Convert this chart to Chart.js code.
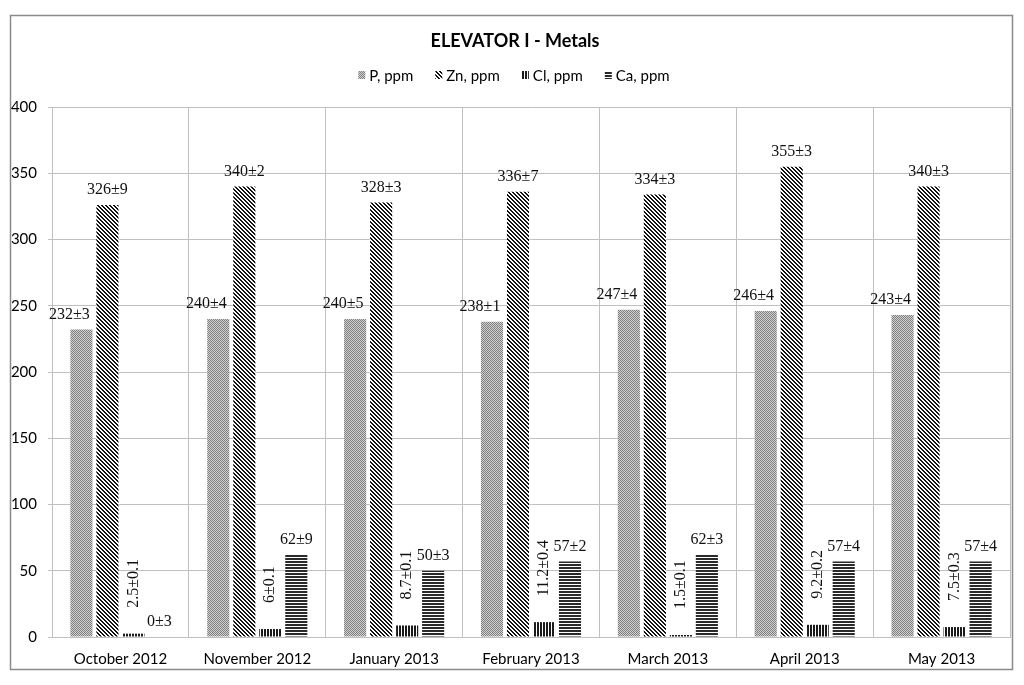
<!DOCTYPE html>
<html>
<head>
<meta charset="utf-8">
<script src="https://cdn.jsdelivr.net/npm/chart.js@4.4.0/dist/chart.umd.min.js"></script>
<style>
  html, body { margin: 0; padding: 0; background: #fff; }
  #wrap { width: 1024px; height: 685px; }
</style>
</head>
<body>
<div id="wrap"><canvas id="myChart" width="1024" height="685"></canvas></div>
<script>
// datos
const categories = ['October 2012', 'November 2012', 'January 2013', 'February 2013', 'March 2013', 'April 2013', 'May 2013'];
const seriesNames = ['P, ppm', 'Zn, ppm', 'Cl, ppm', 'Ca, ppm'];
const pValues = [232, 240, 240, 238, 247, 246, 243];
const pErrors = [3, 4, 5, 1, 4, 4, 4];
const znValues = [326, 340, 328, 336, 334, 355, 340];
const znErrors = [9, 2, 3, 7, 3, 3, 3];
const clValues = [2.5, 6, 8.7, 11.2, 1.5, 9.2, 7.5];
const clErrors = [0.1, 0.1, 0.1, 0.4, 0.1, 0.2, 0.3];
const caValues = [0, 62, 50, 57, 62, 57, 57];
const caErrors = [3, 9, 3, 2, 3, 4, 4];
const yMin = 0;
const yMax = 400;
const yStep = 50;

const titleText = 'ELEVATOR I - Metals';
const sansFont = 'Lato';
const labelFont = '"Liberation Serif"';

// tramas de relleno como en excel
function makePattern(size, isDark, dark, light) {
    const c = document.createElement('canvas');
    c.width = size;
    c.height = size;
    const ctx = c.getContext('2d');
    for (let y = 0; y < size; y++) {
        for (let x = 0; x < size; x++) {
            ctx.fillStyle = isDark(x, y) ? dark : light;
            ctx.fillRect(x, y, 1, 1);
        }
    }
    return c.getContext('2d').createPattern(c, 'repeat');
}

const ctxMain = document.querySelector('#myChart').getContext('2d');
const patP = makePattern(2, (x, y) => (x + y) % 2 == 0, '#808080', '#d0d0d0');
const patZn = makePattern(4, (x, y) => ((x - y + 8) % 4) < 2, '#111111', '#ffffff');
const patCl = makePattern(3, (x, y) => x % 3 < 2, '#1a1a1a', '#ffffff');
const patCa = makePattern(3, (x, y) => y % 3 < 2, '#2a2a2a', '#ffffff');

const errorsBySeries = [pErrors, znErrors, clErrors, caErrors];

// marco exterior, titulo y leyenda
const framePlugin = {
    id: 'frame',
    beforeDraw(chart) {
        const ctx = chart.ctx;
        ctx.save();
        ctx.fillStyle = '#ffffff';
        ctx.fillRect(0, 0, chart.width, chart.height);
        ctx.strokeStyle = '#8a8a8a';
        ctx.lineWidth = 1.5;
        ctx.strokeRect(10.5, 15.5, 1002, 654);
        ctx.restore();
    },
    afterDraw(chart) {
        const ctx = chart.ctx;
        ctx.save();
        ctx.fillStyle = '#000';
        ctx.font = 'bold 18px ' + sansFont;
        ctx.textAlign = 'center';
        ctx.textBaseline = 'middle';
        ctx.fillText(titleText, 515, 41);

        // leyenda
        ctx.font = '15px ' + sansFont;
        ctx.textAlign = 'left';
        const boxW = 7, boxH = 8, gapText = 4, gapItem = 22;
        const widths = chart.data.datasets.map(ds => boxW + gapText + ctx.measureText(ds.label).width);
        const total = widths.reduce((a, b) => a + b, 0) + gapItem * (widths.length - 1);
        let x = 514 - total / 2;
        const y = 75;
        chart.data.datasets.forEach((ds, i) => {
            ctx.fillStyle = ds.backgroundColor;
            ctx.fillRect(x, y - boxH / 2, boxW, boxH);
            ctx.fillStyle = '#000';
            ctx.fillText(ds.label, x + boxW + gapText, y + 1);
            x += widths[i] + gapItem;
        });
        ctx.restore();
    }
};

// etiquetas de valor con su error
const labelsPlugin = {
    id: 'valueLabels',
    afterDatasetsDraw(chart) {
        const ctx = chart.ctx;
        ctx.save();
        ctx.font = '16px ' + labelFont;
        ctx.fillStyle = '#111';
        chart.data.datasets.forEach((ds, i) => {
            const meta = chart.getDatasetMeta(i);
            meta.data.forEach((bar, j) => {
                const text = ds.data[j] + '±' + errorsBySeries[i][j];
                if (i == 2) {
                    // Cl en vertical
                    ctx.save();
                    ctx.translate(bar.x, bar.y - 26);
                    ctx.rotate(-Math.PI / 2);
                    ctx.textAlign = 'left';
                    ctx.textBaseline = 'middle';
                    ctx.fillText(text, 0, 0);
                    ctx.restore();
                } else {
                    const dx = i == 0 ? -12 : 0;
                    ctx.textAlign = 'center';
                    ctx.textBaseline = 'middle';
                    ctx.fillText(text, bar.x + dx, bar.y - 15);
                }
            });
        });
        ctx.restore();
    }
};

const gridColor = '#c0c0c0';

const myChart = new Chart(ctxMain, {
    type: 'bar',
    data: {
        labels: categories,
        datasets: [
            { label: seriesNames[0], data: pValues, backgroundColor: patP },
            { label: seriesNames[1], data: znValues, backgroundColor: patZn },
            { label: seriesNames[2], data: clValues, backgroundColor: patCl },
            { label: seriesNames[3], data: caValues, backgroundColor: patCa },
        ]
    },
    options: {
        responsive: false,
        animation: false,
        devicePixelRatio: 1,
        layout: { padding: { left: 10, right: 14, top: 107, bottom: 16 } },
        datasets: {
            bar: { categoryPercentage: 0.76, barPercentage: 0.85, borderWidth: 0 }
        },
        plugins: {
            legend: { display: false },
            title: { display: false },
            tooltip: { enabled: false }
        },
        scales: {
            x: {
                afterFit: s => { s.height = 32; },
                grid: { offset: true, color: gridColor, drawTicks: false, lineWidth: 1 },
                border: { color: gridColor },
                ticks: { color: '#000', padding: 13, font: { family: sansFont, size: 15 }, maxRotation: 0, autoSkip: false }
            },
            y: {
                min: yMin,
                max: yMax,
                afterFit: s => { s.width = 42; },
                grid: { color: gridColor, tickLength: 4, lineWidth: 1 },
                border: { color: gridColor },
                ticks: { stepSize: yStep, color: '#000', padding: 11, font: { family: sansFont, size: 15 } }
            }
        }
    },
    plugins: [framePlugin, labelsPlugin]
});
</script>
</body>
</html>
